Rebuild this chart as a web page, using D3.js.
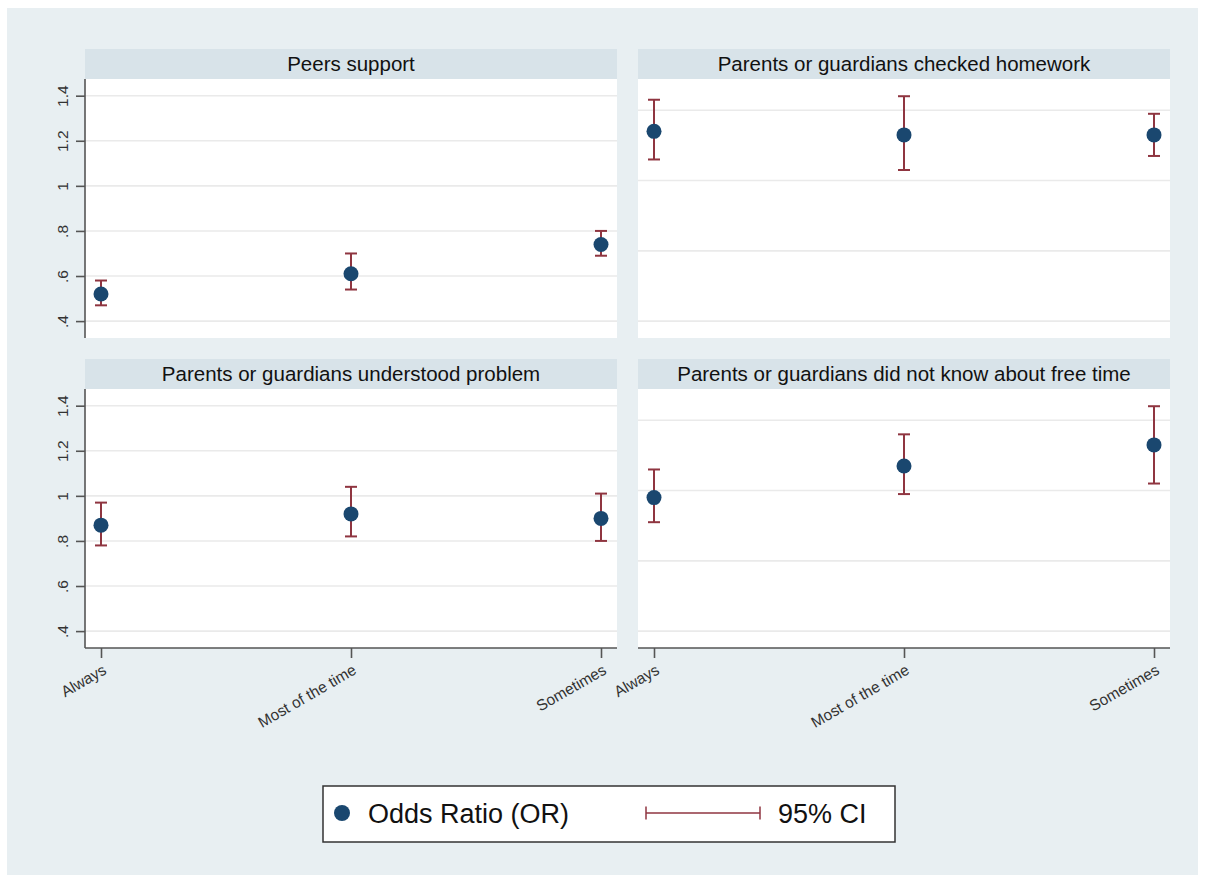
<!DOCTYPE html>
<html>
<head>
<meta charset="utf-8">
<script src="https://cdn.jsdelivr.net/npm/d3@7"></script>
<style>
  body { margin: 0; background: #ffffff; }
  svg { display: block; font-family: "Liberation Sans", Arial, sans-serif; }
</style>
</head>
<body>
<div class="chart"></div>
<script>
// data
var categories = ["Always", "Most of the time", "Sometimes"];
var panelTitles = [
  "Peers support",
  "Parents or guardians checked homework",
  "Parents or guardians understood problem",
  "Parents or guardians did not know about free time"
];
var orValues = [
  [0.52, 0.61, 0.74],
  [1.34, 1.33, 1.33],
  [0.87, 0.92, 0.90],
  [1.18, 1.27, 1.33]
];
var ciLower = [
  [0.47, 0.54, 0.69],
  [1.26, 1.23, 1.27],
  [0.78, 0.82, 0.80],
  [1.11, 1.19, 1.22]
];
var ciUpper = [
  [0.58, 0.70, 0.80],
  [1.43, 1.44, 1.39],
  [0.97, 1.04, 1.01],
  [1.26, 1.36, 1.44]
];
var leftTicks = [0.4, 0.6, 0.8, 1, 1.2, 1.4];
var rightTicks = [0.8, 1, 1.2, 1.4];
var legendLabels = ["Odds Ratio (OR)", "95% CI"];

var W = 1206, H = 882;
var navy = "#1a476f", maroon = "#8f3540";

var svg = d3.select(".chart").append("svg")
  .attr("width", W).attr("height", H);

svg.append("rect").attr("x", 7).attr("y", 8).attr("width", 1191).attr("height", 867)
  .attr("fill", "#e8eff2");

// panel frames: column x range, row y range
var cols = [[85, 617], [638, 1170]];
var rows = [{strip: 49, top: 79, bottom: 338}, {strip: 359, top: 389, bottom: 648}];

function fmt(d) { return d < 1 ? String(d).replace("0.", ".") : String(d); }

panelTitles.forEach(function(title, i) {
  var c = cols[i % 2], r = rows[Math.floor(i / 2)];
  var isLeft = i % 2 === 0, isBottom = i >= 2;

  var x = d3.scalePoint().domain(categories).range(c).padding(0.064);
  var y = d3.scaleLinear()
    .domain(isLeft ? [0.325, 1.474] : [0.752, 1.489])
    .range([r.bottom, r.top]);
  var ticks = isLeft ? leftTicks : rightTicks;

  var g = svg.append("g");

  g.append("rect").attr("x", c[0]).attr("y", r.strip).attr("width", c[1] - c[0])
    .attr("height", r.top - r.strip).attr("fill", "#d8e3e9");
  g.append("text").attr("x", (c[0] + c[1]) / 2).attr("y", r.strip + 22)
    .attr("text-anchor", "middle").attr("font-size", 20.5).attr("fill", "#111")
    .text(title);

  g.append("rect").attr("x", c[0]).attr("y", r.top).attr("width", c[1] - c[0])
    .attr("height", r.bottom - r.top).attr("fill", "#ffffff");

  g.selectAll("line.grid").data(ticks).enter().append("line")
    .attr("class", "grid")
    .attr("x1", c[0]).attr("x2", c[1])
    .attr("y1", function(d) { return y(d); }).attr("y2", function(d) { return y(d); })
    .attr("stroke", "#eaeaea").attr("stroke-width", 1.6);

  if (isLeft) {
    var ya = g.append("g").attr("transform", "translate(" + c[0] + ",0)")
      .call(d3.axisLeft(y).tickValues(ticks).tickSize(9).tickFormat(fmt));
    ya.select(".domain").remove();
    ya.append("line").attr("x1", 0).attr("x2", 0).attr("y1", r.top).attr("y2", r.bottom)
      .attr("stroke", "#555").attr("stroke-width", 1.6);
    ya.selectAll(".tick line").attr("stroke", "#555").attr("stroke-width", 1.6);
    ya.selectAll(".tick text")
      .attr("transform", "rotate(-90)")
      .attr("x", 0).attr("y", -17).attr("dy", 0)
      .attr("text-anchor", "middle")
      .attr("font-size", 15.5).attr("fill", "#333")
      .attr("font-family", "Liberation Sans, Arial, sans-serif");
  }

  if (isBottom) {
    var xa = g.append("g").attr("transform", "translate(0," + r.bottom + ")")
      .call(d3.axisBottom(x).tickSize(10));
    xa.select(".domain").remove();
    xa.append("line").attr("x1", c[0]).attr("x2", c[1]).attr("y1", 0).attr("y2", 0)
      .attr("stroke", "#555").attr("stroke-width", 1.6);
    xa.selectAll(".tick line").attr("stroke", "#555").attr("stroke-width", 1.6);
    xa.selectAll(".tick text")
      .attr("transform", "translate(6,25) rotate(-30)")
      .attr("x", 0).attr("y", 0).attr("dy", 0)
      .attr("text-anchor", "end")
      .attr("font-size", 15.5).attr("fill", "#333")
      .attr("font-family", "Liberation Sans, Arial, sans-serif");
  }

  var pts = categories.map(function(cat, j) {
    return {cat: cat, or: orValues[i][j], lo: ciLower[i][j], hi: ciUpper[i][j]};
  });

  var ci = g.selectAll("g.ci").data(pts).enter().append("g").attr("class", "ci")
    .attr("stroke", maroon).attr("stroke-width", 2);
  ci.append("line")
    .attr("x1", function(d) { return x(d.cat); }).attr("x2", function(d) { return x(d.cat); })
    .attr("y1", function(d) { return y(d.lo); }).attr("y2", function(d) { return y(d.hi); });
  ci.append("line")
    .attr("x1", function(d) { return x(d.cat) - 6; }).attr("x2", function(d) { return x(d.cat) + 6; })
    .attr("y1", function(d) { return y(d.lo); }).attr("y2", function(d) { return y(d.lo); });
  ci.append("line")
    .attr("x1", function(d) { return x(d.cat) - 6; }).attr("x2", function(d) { return x(d.cat) + 6; })
    .attr("y1", function(d) { return y(d.hi); }).attr("y2", function(d) { return y(d.hi); });

  g.selectAll("circle").data(pts).enter().append("circle")
    .attr("cx", function(d) { return x(d.cat); })
    .attr("cy", function(d) { return y(d.or); })
    .attr("r", 7.5).attr("fill", navy);
});

// legend
var lg = svg.append("g");
lg.append("rect").attr("x", 323).attr("y", 786).attr("width", 572).attr("height", 56)
  .attr("fill", "#ffffff").attr("stroke", "#333").attr("stroke-width", 1.5);
lg.append("circle").attr("cx", 342).attr("cy", 813).attr("r", 8).attr("fill", navy);
lg.append("text").attr("x", 368).attr("y", 823).attr("font-size", 27).attr("fill", "#111")
  .text(legendLabels[0]);
var lc = lg.append("g").attr("stroke", maroon).attr("stroke-width", 1.5);
lc.append("line").attr("x1", 646).attr("x2", 760).attr("y1", 813).attr("y2", 813);
lc.append("line").attr("x1", 646).attr("x2", 646).attr("y1", 806.5).attr("y2", 819.5);
lc.append("line").attr("x1", 760).attr("x2", 760).attr("y1", 806.5).attr("y2", 819.5);
lg.append("text").attr("x", 778).attr("y", 823).attr("font-size", 27).attr("fill", "#111")
  .text(legendLabels[1]);
</script>
</body>
</html>
